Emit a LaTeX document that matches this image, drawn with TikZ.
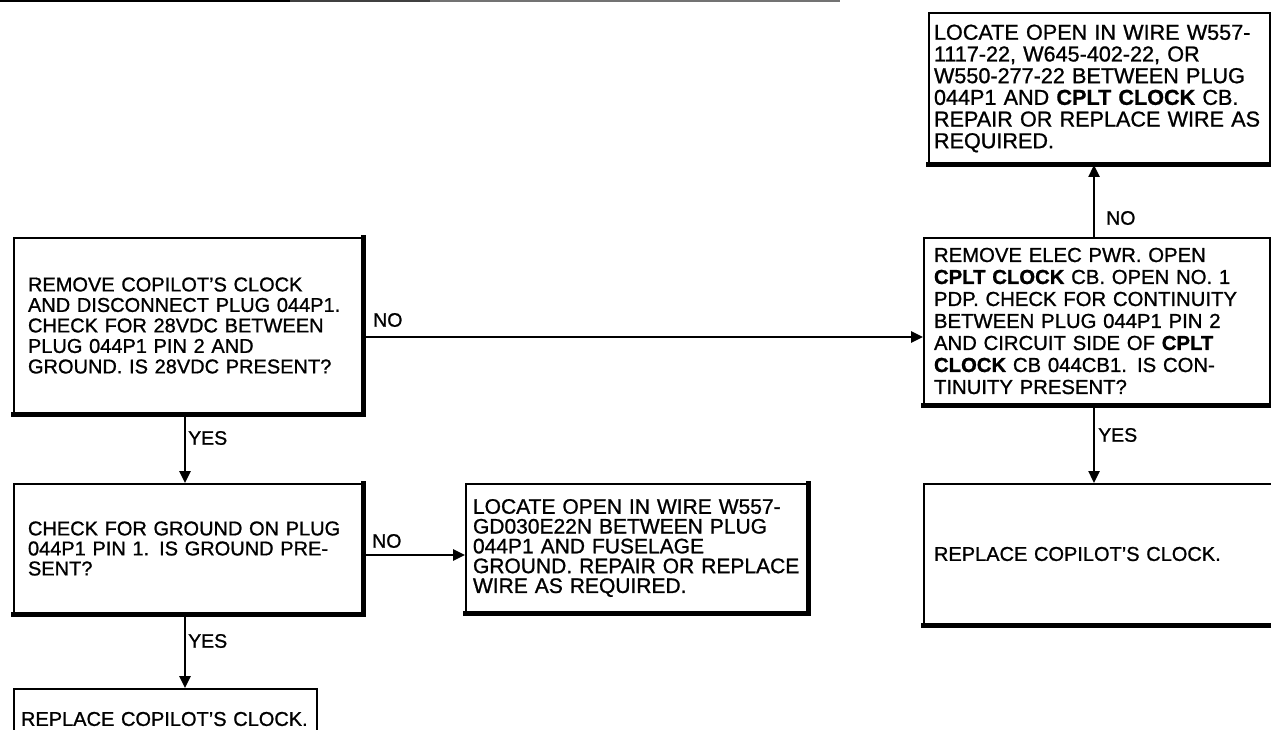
\documentclass[tikz,border=0pt]{standalone}
\usepackage{fontspec}
\setmainfont{Liberation Sans}[FakeBold=1.0]
\usetikzlibrary{arrows.meta}
\tikzset{
  box/.style={draw, line width=2pt, anchor=north west, align=left, inner sep=0pt},
  shadowline/.style={line width=5pt, line cap=rect},
  conn/.style={line width=2.5pt, -{Triangle[length=12pt,width=11pt]}},
  lbl/.style={font=\fontsize{19.5}{21}\selectfont, anchor=west, inner sep=0pt},
}
\begin{document}
\begin{tikzpicture}[x=1pt,y=-1pt]
\useasboundingbox (0,0) rectangle (1271,730);
\fill[white] (0,0) rectangle (1271,730);
% scan edge line at top
\draw[line width=3pt] (0,1) -- (290,1);
\draw[line width=2.5pt, black!75] (290,1) -- (430,1);
\draw[line width=1.5pt, black!55] (430,1) -- (840,1);

% boxes
\node[box, minimum width=348pt, minimum height=175pt, text width=320pt,
  font=\fontsize{20}{20.5}\selectfont] (A) at (13,237)
  {REMOVE COPILOT'S CLOCK\\AND DISCONNECT PLUG 044P1.\\CHECK FOR 28VDC BETWEEN\\PLUG 044P1 PIN 2 AND\\GROUND. IS 28VDC PRESENT?};
\node[box, minimum width=348pt, minimum height=129pt, text width=320pt,
  font=\fontsize{20}{20}\selectfont] (B) at (13,483)
  {CHECK FOR GROUND ON PLUG\\044P1 PIN 1. IS GROUND PRE-\\SENT?};
\node[box, minimum width=303pt, minimum height=60pt, text width=289pt,
  font=\fontsize{20}{20}\selectfont] (C) at (13,688)
  {REPLACE COPILOT'S CLOCK.};
\node[box, minimum width=341pt, minimum height=128pt, text width=327pt,
  font=\fontsize{21}{19.8}\selectfont] (D) at (465,483)
  {LOCATE OPEN IN WIRE W557-\\GD030E22N BETWEEN PLUG\\044P1 AND FUSELAGE\\GROUND. REPAIR OR REPLACE\\WIRE AS REQUIRED.};
\node[box, minimum width=341pt, minimum height=151pt, text width=331pt,
  font=\fontsize{21.6}{21.7}\selectfont] (E) at (928,12)
  {LOCATE OPEN IN WIRE W557-\\1117-22, W645-402-22, OR\\W550-277-22 BETWEEN PLUG\\044P1 AND {\bfseries CPLT CLOCK} CB.\\REPAIR OR REPLACE WIRE AS\\REQUIRED.};
\node[box, minimum width=346pt, minimum height=166pt, text width=326pt,
  font=\fontsize{20.3}{22}\selectfont] (F) at (923,237)
  {REMOVE ELEC PWR. OPEN\\{\bfseries CPLT CLOCK} CB. OPEN NO. 1\\PDP. CHECK FOR CONTINUITY\\BETWEEN PLUG 044P1 PIN 2\\AND CIRCUIT SIDE OF {\bfseries CPLT}\\{\bfseries CLOCK} CB 044CB1. IS CON-\\TINUITY PRESENT?};
\node[box, minimum width=360pt, minimum height=140pt, text width=340pt,
  font=\fontsize{20}{20}\selectfont] (G) at (923,483)
  {REPLACE COPILOT'S CLOCK.};

% shadow edges
\draw[shadowline] (A.south west) -- (A.south east) -- (A.north east);
\draw[shadowline] (B.south west) -- (B.south east) -- (B.north east);
\draw[shadowline] (D.south west) -- (D.south east) -- (D.north east);
\draw[shadowline] (E.south west) -- (E.south east);
\draw[shadowline] (F.south west) -- (F.south east);
\draw[shadowline] (G.south west) -- (G.south east);

% connector positions
\coordinate (yAF) at (0,337);
\coordinate (yBD) at (0,555);
\coordinate (xL) at (185,0);
\coordinate (xR) at (1094,0);

\draw[conn] (A.east |- yAF) -- (F.west |- yAF);
\draw[conn] (A.south -| xL) -- (B.north -| xL);
\draw[conn] (B.east |- yBD) -- (D.west |- yBD);
\draw[conn] (B.south -| xL) -- (C.north -| xL);
\draw[conn] (F.north -| xR) -- (E.south -| xR);
\draw[conn] (F.south -| xR) -- (G.north -| xR);

% labels
\node[lbl] (l1) at (373,320) {NO};
\node[lbl] (l2) at (188,438) {YES};
\node[lbl] (l3) at (372,541) {NO};
\node[lbl] (l4) at (188,641) {YES};
\node[lbl] (l5) at (1106,218) {NO};
\node[lbl] (l6) at (1098,435) {YES};
\end{tikzpicture}
\end{document}
